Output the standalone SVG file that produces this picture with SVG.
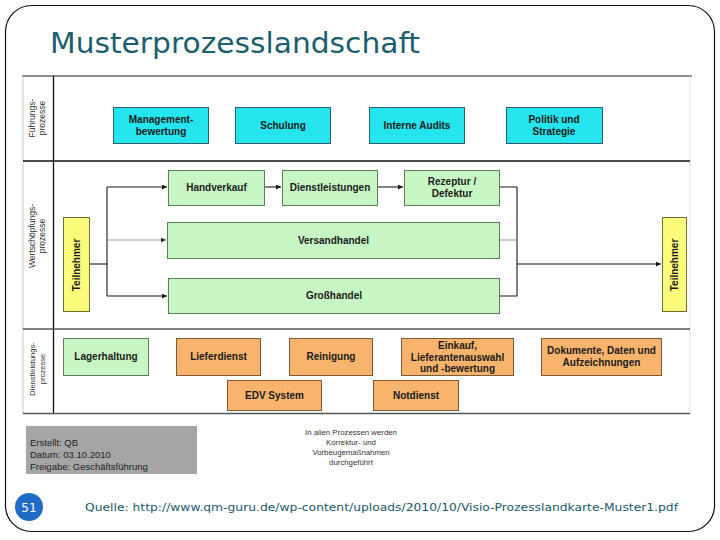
<svg xmlns="http://www.w3.org/2000/svg" width="720" height="540" viewBox="0 0 720 540">
<defs>
<style>
.frame{fill:#fff;stroke:#111;stroke-width:1.2}
.title{font-family:"DejaVu Sans",Verdana,sans-serif;font-size:29px;fill:#1b5e6e}
.src{font-family:"DejaVu Sans",Verdana,sans-serif;font-size:11px;fill:#205a6a}
.lane{stroke:#111;stroke-width:1.3;fill:none}
.lanelbl{font-family:"Liberation Sans",Arial,sans-serif;font-size:8.5px;fill:#333;text-anchor:middle}
.cy{fill:#24e4ee;stroke:#2d5f6a;stroke-width:1}
.gr{fill:#c8f5c4;stroke:#5d7d5a;stroke-width:1}
.or{fill:#f8b46c;stroke:#7d5a35;stroke-width:1}
.ye{fill:#fcfc7c;stroke:#6f6f30;stroke-width:1}
.bt{font-family:"Liberation Sans",Arial,sans-serif;font-size:10px;font-weight:bold;fill:#1a1a1a;text-anchor:middle}
.con{stroke:#1a1a1a;stroke-width:1.1;fill:none}
.con2{stroke:#a0a0a0;stroke-width:1.1;fill:none}
.info{font-family:"Liberation Sans",Arial,sans-serif;font-size:9.5px;fill:#222}
.note{font-family:"Liberation Sans",Arial,sans-serif;font-size:7.8px;fill:#333;text-anchor:middle}
</style>
<marker id="ah" viewBox="0 0 6 6" refX="6" refY="3" markerWidth="5" markerHeight="5" markerUnits="userSpaceOnUse" orient="auto">
<path d="M0,0 L6,3 L0,6 z" fill="#1a1a1a"/>
</marker>
<marker id="ah2" viewBox="0 0 6 6" refX="6" refY="3" markerWidth="5" markerHeight="5" markerUnits="userSpaceOnUse" orient="auto">
<path d="M0,0 L6,3 L0,6 z" fill="#333"/>
</marker>
</defs>

<rect class="frame" x="5.5" y="5.5" width="709" height="526" rx="26"/>
<text class="title" x="50" y="53" textLength="370" lengthAdjust="spacingAndGlyphs">Musterprozesslandschaft</text>

<g id="lanes">
<line x1="22" y1="76" x2="692" y2="76" stroke="#8a8a8a" stroke-width="2"/>
<line x1="23" y1="76" x2="23" y2="414" stroke="#c8c8c8" stroke-width="1"/>
<line x1="690" y1="76" x2="690" y2="414" stroke="#e0e0e0" stroke-width="1"/>
<line class="lane" x1="53.5" y1="76" x2="53.5" y2="414"/>
<line class="lane" x1="23" y1="161" x2="690" y2="161"/>
<line x1="23" y1="329" x2="690" y2="329" stroke="#555" stroke-width="1.3"/>
<line x1="23" y1="413.5" x2="690" y2="413.5" stroke="#555" stroke-width="1.5"/>
<text class="lanelbl" transform="translate(35,118) rotate(-90)">Führungs-</text>
<text class="lanelbl" transform="translate(45,118) rotate(-90)">prozesse</text>
<text class="lanelbl" transform="translate(35,236) rotate(-90)">Wertschöpfungs-</text>
<text class="lanelbl" transform="translate(45,236) rotate(-90)">prozesse</text>
<text class="lanelbl" style="font-size:7.5px" transform="translate(35,369) rotate(-90)">Dienstleistungs-</text>
<text class="lanelbl" style="font-size:7.5px" transform="translate(45,369) rotate(-90)">prozesse</text>
</g>

<g id="connectors">
<path class="con" d="M89,264 H107"/>
<path class="con" d="M107,187 V296"/>
<path class="con" d="M107,187 H167" marker-end="url(#ah)"/>
<path class="con2" d="M107,240 H166" marker-end="url(#ah2)"/>
<path class="con" d="M107,296 H167" marker-end="url(#ah)"/>
<path class="con" d="M265,187 H281" marker-end="url(#ah)"/>
<path class="con" d="M378,187 H403" marker-end="url(#ah)"/>
<path class="con" d="M500,187 H517 V296 H500"/>
<path class="con2" d="M500,240 H517"/>
<path class="con" d="M517,264 H661" marker-end="url(#ah)"/>
</g>

<g id="n-management"><rect class="cy" x="113.5" y="107.5" width="95" height="36"/><text class="bt" x="161" y="123">Management-</text><text class="bt" x="161" y="135">bewertung</text></g>
<g id="n-schulung"><rect class="cy" x="235.5" y="107.5" width="95" height="36"/><text class="bt" x="283" y="129">Schulung</text></g>
<g id="n-audits"><rect class="cy" x="369.5" y="107.5" width="95" height="36"/><text class="bt" x="417" y="129">Interne Audits</text></g>
<g id="n-politik"><rect class="cy" x="506.5" y="107.5" width="96" height="36"/><text class="bt" x="554" y="123">Politik und</text><text class="bt" x="554" y="135">Strategie</text></g>

<g id="n-teilnehmer-l"><rect class="ye" x="63.5" y="217.5" width="26" height="94"/><text class="bt" transform="translate(80,265) rotate(-90)">Teilnehmer</text></g>
<g id="n-teilnehmer-r"><rect class="ye" x="662.5" y="217.5" width="24" height="94"/><text class="bt" transform="translate(678,265) rotate(-90)">Teilnehmer</text></g>

<g id="n-handverkauf"><rect class="gr" x="168.5" y="170.5" width="96" height="35"/><text class="bt" x="216.5" y="191">Handverkauf</text></g>
<g id="n-dienstleistungen"><rect class="gr" x="282.5" y="170.5" width="95" height="35"/><text class="bt" x="330" y="191">Dienstleistungen</text></g>
<g id="n-rezeptur"><rect class="gr" x="404.5" y="170.5" width="95" height="35"/><text class="bt" x="452" y="185">Rezeptur /</text><text class="bt" x="452" y="197">Defektur</text></g>
<g id="n-versandhandel"><rect class="gr" x="167.5" y="222.5" width="332" height="36"/><text class="bt" x="333.5" y="244">Versandhandel</text></g>
<g id="n-grosshandel"><rect class="gr" x="168.5" y="278.5" width="331" height="35"/><text class="bt" x="334" y="299">Großhandel</text></g>

<g id="n-lagerhaltung"><rect class="gr" x="63.5" y="338.5" width="85" height="37"/><text class="bt" x="106" y="360">Lagerhaltung</text></g>
<g id="n-lieferdienst"><rect class="or" x="176.5" y="338.5" width="84" height="37"/><text class="bt" x="218.5" y="360">Lieferdienst</text></g>
<g id="n-reinigung"><rect class="or" x="289.5" y="338.5" width="83" height="37"/><text class="bt" x="331" y="360">Reinigung</text></g>
<g id="n-einkauf"><rect class="or" x="401.5" y="338.5" width="112" height="37"/><text class="bt" x="457.5" y="349">Einkauf,</text><text class="bt" x="457.5" y="360.5">Lieferantenauswahl</text><text class="bt" x="457.5" y="372">und -bewertung</text></g>
<g id="n-dokumente"><rect class="or" x="541.5" y="338.5" width="120" height="37"/><text class="bt" x="601.5" y="354">Dokumente, Daten und</text><text class="bt" x="601.5" y="366">Aufzeichnungen</text></g>
<g id="n-edv"><rect class="or" x="227.5" y="380.5" width="94" height="30"/><text class="bt" x="274.5" y="399">EDV System</text></g>
<g id="n-notdienst"><rect class="or" x="373.5" y="380.5" width="85" height="30"/><text class="bt" x="416" y="399">Notdienst</text></g>

<g id="info">
<rect x="26" y="426" width="171" height="48" fill="#a6a6a6"/>
<text class="info" x="30" y="446">Erstellt: QB</text>
<text class="info" x="30" y="458">Datum: 03.10.2010</text>
<text class="info" x="30" y="470">Freigabe: Geschäftsführung</text>
</g>
<g id="note">
<text class="note" x="351" y="435">In allen Prozessen werden</text>
<text class="note" x="351" y="445">Korrektur- und</text>
<text class="note" x="351" y="455">Vorbeugemaßnahmen</text>
<text class="note" x="351" y="465">durchgeführt</text>
</g>

<g id="page">
<circle cx="29" cy="507" r="14" fill="#1f6bc6"/>
<text x="29" y="511.5" font-family="DejaVu Sans,Verdana,sans-serif" font-size="12" fill="#fff" text-anchor="middle">51</text>
</g>
<text class="src" x="85" y="511" textLength="593" lengthAdjust="spacingAndGlyphs">Quelle: http://www.qm-guru.de/wp-content/uploads/2010/10/Visio-Prozesslandkarte-Muster1.pdf</text>
</svg>
